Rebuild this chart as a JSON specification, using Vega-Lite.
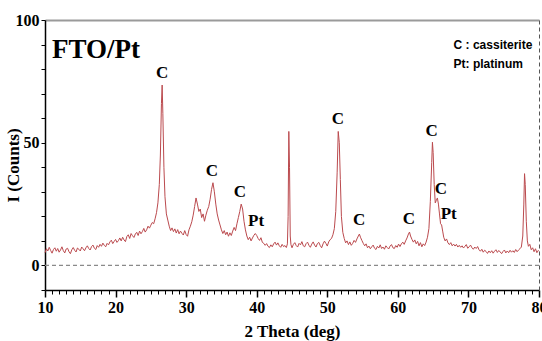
{
  "$schema": "https://vega.github.io/schema/vega-lite/v6.json",
  "width": 494,
  "height": 270,
  "autosize": "none",
  "padding": {"left": 45, "top": 20, "right": 3, "bottom": 51},
  "background": "white",
  "config": {
    "view": {"stroke": null},
    "axis": {"labelFont": "Liberation Serif", "titleFont": "Liberation Serif", "labelFontWeight": "bold", "titleFontWeight": "bold", "labelColor": "black", "titleColor": "black", "domainColor": "black", "tickColor": "black", "grid": false}
  },
  "datasets": {
    "xrd": [
      {"x":10.0,"y":5.2},{"x":10.2,"y":6.8},{"x":10.4,"y":5.9},{"x":10.6,"y":7.4},{"x":10.8,"y":6.1},{"x":11.0,"y":5.0},{"x":11.2,"y":6.5},{"x":11.4,"y":7.2},{"x":11.6,"y":5.8},{"x":11.8,"y":6.9},
      {"x":12.0,"y":5.4},{"x":12.2,"y":6.3},{"x":12.4,"y":7.6},{"x":12.6,"y":6.0},{"x":12.8,"y":5.1},{"x":13.0,"y":6.7},{"x":13.2,"y":7.0},{"x":13.4,"y":5.6},{"x":13.6,"y":4.8},{"x":13.8,"y":6.4},
      {"x":14.0,"y":7.3},{"x":14.2,"y":6.2},{"x":14.4,"y":5.5},{"x":14.6,"y":7.1},{"x":14.8,"y":6.6},{"x":15.0,"y":5.9},{"x":15.2,"y":7.5},{"x":15.4,"y":6.8},{"x":15.6,"y":6.0},{"x":15.8,"y":7.2},
      {"x":16.0,"y":8.0},{"x":16.2,"y":6.9},{"x":16.4,"y":6.3},{"x":16.6,"y":7.7},{"x":16.8,"y":8.3},{"x":17.0,"y":7.0},{"x":17.2,"y":6.5},{"x":17.4,"y":8.1},{"x":17.6,"y":7.4},{"x":17.8,"y":8.6},
      {"x":18.0,"y":7.8},{"x":18.2,"y":9.1},{"x":18.4,"y":8.2},{"x":18.6,"y":7.6},{"x":18.8,"y":9.0},{"x":19.0,"y":8.4},{"x":19.2,"y":9.6},{"x":19.4,"y":10.3},{"x":19.6,"y":8.9},{"x":19.8,"y":9.8},
      {"x":20.0,"y":10.6},{"x":20.2,"y":9.4},{"x":20.4,"y":10.1},{"x":20.6,"y":11.2},{"x":20.8,"y":10.0},{"x":21.0,"y":11.5},{"x":21.2,"y":10.4},{"x":21.4,"y":9.7},{"x":21.6,"y":11.8},{"x":21.8,"y":12.5},
      {"x":22.0,"y":11.0},{"x":22.2,"y":13.0},{"x":22.4,"y":12.1},{"x":22.6,"y":11.4},{"x":22.8,"y":12.8},{"x":23.0,"y":13.5},{"x":23.2,"y":12.2},{"x":23.4,"y":14.0},{"x":23.6,"y":12.9},{"x":23.8,"y":13.8},
      {"x":24.0,"y":15.1},{"x":24.2,"y":13.6},{"x":24.4,"y":14.5},{"x":24.6,"y":16.0},{"x":24.8,"y":15.2},{"x":25.0,"y":16.4},{"x":25.2,"y":17.5},{"x":25.4,"y":17.0},{"x":25.6,"y":19.0},{"x":25.8,"y":21.5},
      {"x":26.0,"y":25.5},{"x":26.2,"y":33.0},{"x":26.35,"y":45.0},{"x":26.5,"y":66.0},{"x":26.6,"y":73.5},{"x":26.7,"y":62.0},{"x":26.85,"y":40.0},{"x":27.0,"y":28.0},{"x":27.2,"y":21.0},{"x":27.4,"y":18.5},
      {"x":27.6,"y":16.0},{"x":27.8,"y":14.2},{"x":28.0,"y":15.3},{"x":28.2,"y":13.8},{"x":28.4,"y":14.9},{"x":28.6,"y":13.2},{"x":28.8,"y":14.6},{"x":29.0,"y":12.9},{"x":29.2,"y":14.0},{"x":29.4,"y":13.1},
      {"x":29.6,"y":12.4},{"x":29.8,"y":14.2},{"x":30.0,"y":12.6},{"x":30.2,"y":11.9},{"x":30.4,"y":14.5},{"x":30.6,"y":16.0},{"x":30.8,"y":17.8},{"x":31.0,"y":20.5},{"x":31.2,"y":24.0},{"x":31.4,"y":27.5},
      {"x":31.6,"y":25.0},{"x":31.8,"y":22.0},{"x":32.0,"y":23.0},{"x":32.2,"y":19.5},{"x":32.4,"y":21.0},{"x":32.6,"y":18.0},{"x":32.8,"y":20.5},{"x":33.0,"y":22.5},{"x":33.2,"y":24.0},{"x":33.4,"y":27.0},
      {"x":33.6,"y":31.0},{"x":33.8,"y":33.7},{"x":34.0,"y":30.0},{"x":34.2,"y":25.0},{"x":34.4,"y":21.0},{"x":34.6,"y":18.5},{"x":34.8,"y":16.5},{"x":35.0,"y":14.5},{"x":35.2,"y":13.0},{"x":35.4,"y":14.2},
      {"x":35.6,"y":12.5},{"x":35.8,"y":13.6},{"x":36.0,"y":11.9},{"x":36.2,"y":13.3},{"x":36.4,"y":12.2},{"x":36.6,"y":14.0},{"x":36.8,"y":15.5},{"x":37.0,"y":14.2},{"x":37.2,"y":17.0},{"x":37.4,"y":19.5},
      {"x":37.6,"y":22.0},{"x":37.8,"y":25.0},{"x":38.0,"y":23.0},{"x":38.2,"y":18.0},{"x":38.4,"y":14.5},{"x":38.6,"y":12.0},{"x":38.8,"y":10.5},{"x":39.0,"y":11.5},{"x":39.2,"y":10.0},{"x":39.4,"y":11.2},
      {"x":39.6,"y":12.3},{"x":39.8,"y":13.0},{"x":40.0,"y":12.2},{"x":40.2,"y":11.0},{"x":40.4,"y":10.2},{"x":40.6,"y":11.3},{"x":40.8,"y":9.4},{"x":41.0,"y":9.0},{"x":41.2,"y":8.2},{"x":41.4,"y":8.9},
      {"x":41.6,"y":7.8},{"x":41.8,"y":7.3},{"x":42.0,"y":8.4},{"x":42.2,"y":7.6},{"x":42.4,"y":8.8},{"x":42.6,"y":9.5},{"x":42.8,"y":8.3},{"x":43.0,"y":9.2},{"x":43.2,"y":8.0},{"x":43.4,"y":7.4},
      {"x":43.6,"y":8.6},{"x":43.8,"y":7.7},{"x":44.0,"y":8.1},{"x":44.2,"y":7.3},{"x":44.35,"y":8.8},{"x":44.45,"y":20.0},{"x":44.55,"y":54.6},{"x":44.65,"y":40.0},{"x":44.75,"y":12.0},{"x":44.85,"y":8.5},
      {"x":45.0,"y":7.2},{"x":45.2,"y":8.6},{"x":45.4,"y":9.3},{"x":45.6,"y":8.1},{"x":45.8,"y":7.5},{"x":46.0,"y":9.0},{"x":46.2,"y":8.4},{"x":46.4,"y":9.7},{"x":46.6,"y":8.0},{"x":46.8,"y":7.6},
      {"x":47.0,"y":8.9},{"x":47.2,"y":9.5},{"x":47.4,"y":8.2},{"x":47.6,"y":7.4},{"x":47.8,"y":8.7},{"x":48.0,"y":9.6},{"x":48.2,"y":8.3},{"x":48.4,"y":7.5},{"x":48.6,"y":8.9},{"x":48.8,"y":9.4},
      {"x":49.0,"y":8.1},{"x":49.2,"y":7.2},{"x":49.4,"y":8.8},{"x":49.6,"y":9.9},{"x":49.8,"y":9.0},{"x":50.0,"y":7.9},{"x":50.2,"y":9.6},{"x":50.4,"y":10.5},{"x":50.6,"y":11.0},{"x":50.8,"y":12.5},
      {"x":51.0,"y":15.0},{"x":51.2,"y":22.0},{"x":51.4,"y":38.0},{"x":51.55,"y":54.6},{"x":51.7,"y":50.0},{"x":51.85,"y":35.0},{"x":52.0,"y":20.0},{"x":52.2,"y":13.5},{"x":52.4,"y":11.0},{"x":52.6,"y":9.2},
      {"x":52.8,"y":10.0},{"x":53.0,"y":8.5},{"x":53.2,"y":9.6},{"x":53.4,"y":8.2},{"x":53.6,"y":9.0},{"x":53.8,"y":10.2},{"x":54.0,"y":9.4},{"x":54.2,"y":10.8},{"x":54.4,"y":12.0},{"x":54.55,"y":12.8},
      {"x":54.7,"y":11.5},{"x":54.9,"y":10.2},{"x":55.1,"y":9.0},{"x":55.3,"y":8.0},{"x":55.5,"y":8.8},{"x":55.7,"y":7.2},{"x":55.9,"y":7.9},{"x":56.1,"y":6.8},{"x":56.3,"y":7.6},{"x":56.5,"y":8.3},
      {"x":56.7,"y":7.0},{"x":56.9,"y":6.5},{"x":57.1,"y":7.8},{"x":57.3,"y":7.1},{"x":57.5,"y":8.4},{"x":57.7,"y":6.9},{"x":57.9,"y":7.5},{"x":58.1,"y":6.6},{"x":58.3,"y":8.0},{"x":58.5,"y":7.3},
      {"x":58.7,"y":6.7},{"x":58.9,"y":7.9},{"x":59.1,"y":8.5},{"x":59.3,"y":7.2},{"x":59.5,"y":6.9},{"x":59.7,"y":8.1},{"x":59.9,"y":7.4},{"x":60.1,"y":8.7},{"x":60.3,"y":7.7},{"x":60.5,"y":8.8},
      {"x":60.7,"y":9.5},{"x":60.9,"y":8.6},{"x":61.1,"y":10.0},{"x":61.3,"y":11.2},{"x":61.5,"y":12.8},{"x":61.65,"y":13.6},{"x":61.8,"y":12.0},{"x":62.0,"y":10.6},{"x":62.2,"y":9.5},{"x":62.4,"y":10.4},
      {"x":62.6,"y":8.8},{"x":62.8,"y":9.8},{"x":63.0,"y":8.0},{"x":63.2,"y":9.3},{"x":63.4,"y":7.6},{"x":63.6,"y":8.8},{"x":63.8,"y":8.1},{"x":64.0,"y":9.5},{"x":64.2,"y":11.5},{"x":64.4,"y":15.0},
      {"x":64.6,"y":26.0},{"x":64.8,"y":42.0},{"x":64.9,"y":50.2},{"x":65.0,"y":46.0},{"x":65.15,"y":33.0},{"x":65.3,"y":25.5},{"x":65.45,"y":26.5},{"x":65.6,"y":27.5},{"x":65.75,"y":25.0},{"x":65.9,"y":21.0},
      {"x":66.05,"y":17.0},{"x":66.2,"y":16.5},{"x":66.35,"y":14.0},{"x":66.5,"y":11.5},{"x":66.7,"y":10.0},{"x":66.9,"y":10.8},{"x":67.1,"y":9.2},{"x":67.3,"y":8.5},{"x":67.5,"y":9.3},{"x":67.7,"y":8.0},
      {"x":67.9,"y":8.7},{"x":68.1,"y":7.9},{"x":68.3,"y":8.6},{"x":68.5,"y":7.5},{"x":68.7,"y":8.2},{"x":68.9,"y":7.4},{"x":69.1,"y":8.0},{"x":69.3,"y":7.1},{"x":69.5,"y":7.8},{"x":69.7,"y":8.5},
      {"x":69.9,"y":7.0},{"x":70.1,"y":7.6},{"x":70.3,"y":8.3},{"x":70.5,"y":7.2},{"x":70.7,"y":6.6},{"x":70.9,"y":7.5},{"x":71.1,"y":6.9},{"x":71.3,"y":7.7},{"x":71.5,"y":6.4},{"x":71.7,"y":5.8},
      {"x":71.9,"y":6.6},{"x":72.1,"y":5.4},{"x":72.3,"y":6.2},{"x":72.5,"y":5.7},{"x":72.7,"y":4.9},{"x":72.9,"y":5.9},{"x":73.1,"y":5.2},{"x":73.3,"y":6.0},{"x":73.5,"y":5.0},{"x":73.7,"y":5.8},
      {"x":73.9,"y":6.4},{"x":74.1,"y":5.3},{"x":74.3,"y":6.1},{"x":74.5,"y":5.5},{"x":74.7,"y":4.8},{"x":74.9,"y":5.7},{"x":75.1,"y":6.3},{"x":75.3,"y":5.1},{"x":75.5,"y":5.9},{"x":75.7,"y":5.2},
      {"x":75.9,"y":6.2},{"x":76.1,"y":5.4},{"x":76.3,"y":6.0},{"x":76.5,"y":5.3},{"x":76.7,"y":6.5},{"x":76.9,"y":5.6},{"x":77.1,"y":6.3},{"x":77.3,"y":6.8},{"x":77.5,"y":7.5},{"x":77.7,"y":12.0},
      {"x":77.85,"y":25.0},{"x":77.95,"y":37.4},{"x":78.05,"y":33.0},{"x":78.2,"y":18.0},{"x":78.35,"y":10.0},{"x":78.5,"y":7.8},{"x":78.7,"y":8.6},{"x":78.9,"y":6.4},{"x":79.1,"y":7.2},{"x":79.3,"y":5.6},
      {"x":79.5,"y":6.8},{"x":79.7,"y":5.2},{"x":79.9,"y":6.1},{"x":80.0,"y":5.8}
    ],
    "peaks": [
      {"x":26.6,"y":78.3,"label":"C"},
      {"x":33.65,"y":38.5,"label":"C"},
      {"x":37.6,"y":30.0,"label":"C"},
      {"x":39.9,"y":18.0,"label":"Pt"},
      {"x":51.5,"y":59.8,"label":"C"},
      {"x":54.5,"y":18.4,"label":"C"},
      {"x":61.55,"y":18.9,"label":"C"},
      {"x":64.8,"y":54.9,"label":"C"},
      {"x":66.1,"y":31.0,"label":"C"},
      {"x":67.2,"y":20.9,"label":"Pt"}
    ],
    "legend": [
      {"x":67.9,"y":89.8,"label":"C : cassiterite"},
      {"x":67.9,"y":82.0,"label":"Pt: platinum"}
    ],
    "sample": [{"x":11.0,"y":87.7,"label":"FTO/Pt"}],
    "zero": [{"y":0}]
  },
  "layer": [
    {
      "data": {"name": "zero"},
      "mark": {"type": "rule", "color": "#8a8a8a", "strokeDash": [4, 3], "strokeWidth": 1.2},
      "encoding": {
        "y": {"field": "y", "type": "quantitative", "scale": {"domain": [-10, 100]},
          "axis": {"orient": "right", "domainDash": [4, 3], "domainColor": "#555555", "ticks": false, "labels": false, "title": null}}
      }
    },
    {
      "data": {"name": "xrd"},
      "mark": {"type": "line", "color": "#bb4a4e", "strokeWidth": 1, "interpolate": "linear"},
      "encoding": {
        "x": {"field": "x", "type": "quantitative", "scale": {"domain": [10, 80], "nice": false},
          "axis": {"orient": "bottom", "values": [10, 20, 30, 40, 50, 60, 70, 80], "tickSize": 7, "tickWidth": 1.5, "domainWidth": 1.5, "labelFontSize": 16, "labelPadding": 2, "labelFlush": false,
            "title": "2 Theta (deg)", "titleFontSize": 17, "titleBaseline": "middle", "titleY": 41}},
        "y": {"field": "y", "type": "quantitative", "scale": {"domain": [-10, 100], "nice": false},
          "axis": {"orient": "left", "values": [-10, 0, 10, 20, 30, 40, 50, 60, 70, 80, 90, 100], "labelExpr": "(datum.value == 0 || datum.value == 50 || datum.value == 100) ? datum.label : ''", "tickSize": 4, "domainWidth": 1.5, "labelFontSize": 16, "labelPadding": 2,
            "title": "I (Counts)", "titleFontSize": 17, "titleX": -23, "titleY": 145}}
      }
    },
    {
      "data": {"name": "peaks"},
      "mark": {"type": "text", "font": "Liberation Serif", "fontWeight": "bold", "fontSize": 17, "color": "black", "align": "center", "baseline": "middle"},
      "encoding": {
        "x": {"field": "x", "type": "quantitative", "scale": {"domain": [10, 80], "nice": false},
          "axis": {"orient": "bottom", "values": [11,12,13,14,15,16,17,18,19,21,22,23,24,25,26,27,28,29,31,32,33,34,35,36,37,38,39,41,42,43,44,45,46,47,48,49,51,52,53,54,55,56,57,58,59,61,62,63,64,65,66,67,68,69,71,72,73,74,75,76,77,78,79], "tickSize": 4, "labels": false, "domain": false, "title": null}},
        "y": {"field": "y", "type": "quantitative", "scale": {"domain": [-10, 100]}, "axis": null},
        "text": {"field": "label"}
      }
    },
    {
      "data": {"name": "legend"},
      "mark": {"type": "text", "font": "Liberation Sans", "fontWeight": "bold", "fontSize": 12, "color": "black", "align": "left", "baseline": "middle"},
      "encoding": {
        "x": {"field": "x", "type": "quantitative", "scale": {"domain": [10, 80], "nice": false},
          "axis": {"orient": "top", "domainColor": "#9a9a9a", "domainWidth": 2, "ticks": false, "labels": false, "title": null}},
        "y": {"field": "y", "type": "quantitative", "scale": {"domain": [-10, 100]}, "axis": null},
        "text": {"field": "label"}
      }
    },
    {
      "data": {"name": "sample"},
      "mark": {"type": "text", "font": "Liberation Serif", "fontWeight": "bold", "fontSize": 27, "color": "black", "align": "left", "baseline": "middle"},
      "encoding": {
        "x": {"field": "x", "type": "quantitative", "scale": {"domain": [10, 80], "nice": false}, "axis": null},
        "y": {"field": "y", "type": "quantitative", "scale": {"domain": [-10, 100]}, "axis": null},
        "text": {"field": "label"}
      }
    }
  ],
  "resolve": {"axis": {"x": "independent", "y": "independent"}}
}
